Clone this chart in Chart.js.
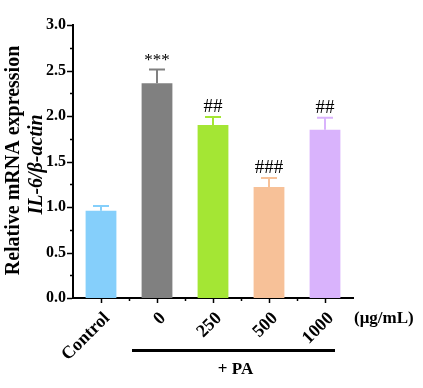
<!DOCTYPE html>
<html>
<head>
<meta charset="utf-8">
<script src="https://cdn.jsdelivr.net/npm/chart.js@4.4.1/dist/chart.umd.min.js"></script>
<style>
  html, body { margin: 0; padding: 0; background: #fff; }
</style>
</head>
<body>
<canvas id="chart" width="423" height="388"></canvas>
<script>
// data
var labels = ['Control', '0', '250', '500', '1000'];
var means = [0.96, 2.36, 1.90, 1.22, 1.85];
var errors = [0.05, 0.15, 0.09, 0.10, 0.13];
var marks = ['', '***', '##', '###', '##'];
var colors = ['#85cffb', '#808080', '#a4e634', '#f7c198', '#d9b3fc'];
var yMin = 0, yMax = 3, yStep = 0.5, yMinorStep = 0.25;

var serif = "'Liberation Serif', 'Times New Roman', serif";

// error bars, significance marks, minor ticks and extra labels
var extras = {
    id: 'extras',
    afterDatasetsDraw: function(chart) {
        var ctx = chart.ctx;
        var xs = chart.scales.x, ys = chart.scales.y;
        var meta = chart.getDatasetMeta(0);
        ctx.save();

        for (var i = 0; i < means.length; i++) {
            var bar = meta.data[i];
            var top = ys.getPixelForValue(means[i] + errors[i]);
            var base = ys.getPixelForValue(means[i]);
            ctx.strokeStyle = colors[i];
            ctx.lineWidth = 2;
            ctx.beginPath();
            ctx.moveTo(bar.x, base);
            ctx.lineTo(bar.x, top);
            ctx.moveTo(bar.x - 8, top);
            ctx.lineTo(bar.x + 8, top);
            ctx.stroke();

            if (marks[i]) {
                ctx.fillStyle = '#000';
                ctx.font = (marks[i].charAt(0) === '*' ? '17px ' : '19px ') + serif;
                ctx.textAlign = 'center';
                ctx.textBaseline = 'alphabetic';
                ctx.fillText(marks[i], bar.x, top - 5);
            }
        }

        // tick marks
        ctx.strokeStyle = '#000';
        ctx.lineWidth = 1.5;
        var axisX = chart.chartArea.left;
        for (var v = yMin; v <= yMax + 1e-9; v += yMinorStep) {
            var py = Math.round(ys.getPixelForValue(v)) + 0.5;
            var major = Math.abs(v / yStep - Math.round(v / yStep)) < 1e-6;
            ctx.beginPath();
            ctx.moveTo(axisX - 1, py);
            ctx.lineTo(axisX - (major ? 6 : 3), py);
            ctx.stroke();
        }
        var axisY = chart.chartArea.bottom;
        for (var j = 0; j < labels.length; j++) {
            var cx = xs.getPixelForValue(j);
            ctx.beginPath();
            ctx.moveTo(Math.round(cx) + 0.5, axisY + 1);
            ctx.lineTo(Math.round(cx) + 0.5, axisY + 5);
            ctx.stroke();
            if (j > 0) {
                var bx = (xs.getPixelForValue(j - 1) + cx) / 2;
                ctx.beginPath();
                ctx.moveTo(Math.round(bx) + 0.5, axisY + 1);
                ctx.lineTo(Math.round(bx) + 0.5, axisY + 3);
                ctx.stroke();
            }
        }

        // unit label
        ctx.fillStyle = '#000';
        ctx.font = 'bold 17px ' + serif;
        ctx.textAlign = 'left';
        ctx.textBaseline = 'middle';
        ctx.fillText('(\u03bcg/mL)', chart.chartArea.right + 1, axisY + 21);

        // + PA bracket
        var x0 = xs.getPixelForValue(1) - 25;
        var x1 = xs.getPixelForValue(4) + 10;
        ctx.fillRect(x0, axisY + 51, x1 - x0, 3);
        ctx.font = 'bold 17px ' + serif;
        ctx.textAlign = 'center';
        ctx.fillText('+ PA', (x0 + x1) / 2 + 2, axisY + 72);

        // y axis title, two lines
        var midY = (chart.chartArea.top + chart.chartArea.bottom) / 2;
        ctx.translate(0, midY);
        ctx.rotate(-Math.PI / 2);
        ctx.font = 'bold 20px ' + serif;
        ctx.fillText('Relative mRNA expression', 1, 14);
        ctx.font = 'italic bold 20px ' + serif;
        ctx.fillText('IL-6/\u03b2-actin', -3, 37);
        ctx.restore();
    }
};

var ctx = document.getElementById('chart').getContext('2d');
var myChart = new Chart(ctx, {
    type: 'bar',
    data: {
        labels: labels,
        datasets: [{
            data: means,
            backgroundColor: colors,
            borderWidth: 0,
            barPercentage: 0.55,
            categoryPercentage: 1
        }]
    },
    options: {
        responsive: false,
        animation: false,
        layout: { padding: { left: 0, right: 70, top: 25, bottom: 0 } },
        plugins: {
            legend: { display: false },
            tooltip: { enabled: false }
        },
        scales: {
            x: {
                grid: { display: false, drawTicks: false },
                border: { display: true, color: '#000', width: 2 },
                ticks: {
                    color: '#000',
                    font: { family: serif, size: 18, weight: 'bold' },
                    minRotation: 45,
                    maxRotation: 45,
                    padding: 10,
                    labelOffset: 6
                },
                afterFit: function(scale) { scale.height = 90; }
            },
            y: {
                min: yMin,
                max: yMax,
                grid: { display: false, drawTicks: false },
                border: { display: true, color: '#000', width: 2 },
                ticks: {
                    stepSize: yStep,
                    color: '#000',
                    padding: 7,
                    font: { family: serif, size: 16, weight: 'bold' },
                    callback: function(v) { return Number(v).toFixed(1); }
                },
                afterFit: function(scale) { scale.width = 73; }
            }
        }
    },
    plugins: [extras]
});
</script>
</body>
</html>
